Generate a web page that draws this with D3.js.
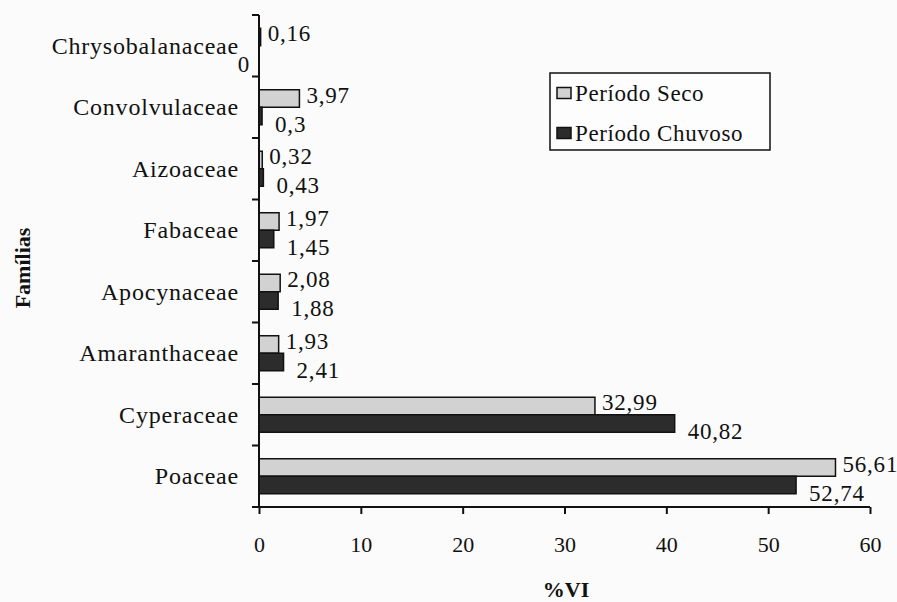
<!DOCTYPE html>
<html>
<head>
<meta charset="utf-8">
<script src="https://cdn.jsdelivr.net/npm/d3@7"></script>
<style>
  html, body { margin: 0; padding: 0; background: #fbfbfb; }
  svg { display: block; }
  text { font-family: "Liberation Serif", "Times New Roman", serif; fill: #111; }
</style>
</head>
<body>
<svg id="chart" width="897" height="602"></svg>
<script>
// Plant families, listed top to bottom
const families = ["Chrysobalanaceae", "Convolvulaceae", "Aizoaceae", "Fabaceae",
                  "Apocynaceae", "Amaranthaceae", "Cyperaceae", "Poaceae"];
// %VI per family for each season
const seco    = [0.16, 3.97, 0.32, 1.97, 2.08, 1.93, 32.99, 56.61];
const chuvoso = [0,    0.30, 0.43, 1.45, 1.88, 2.41, 40.82, 52.74];
const seriesNames = ["Período Seco", "Período Chuvoso"];
const xTicks = [0, 10, 20, 30, 40, 50, 60];

const fmt = v => String(v).replace(".", ",");

const svg = d3.select("#chart");
const margin = { top: 15, left: 259, right: 27, bottom: 95 };
const W = 897, H = 602;

const x = d3.scaleLinear().domain([0, 60]).range([margin.left, W - margin.right]);
const y = d3.scaleBand().domain(families).range([margin.top, H - margin.bottom]).padding(0);
const sub = d3.scaleBand().domain(["seco", "chuvoso"]).range([0, y.bandwidth()])
  .paddingInner(0).paddingOuter(0.757);

const fills  = { seco: "#d2d2d2", chuvoso: "#2c2c2c" };

// Bars
const rows = families.map((f, i) => ({ f, seco: seco[i], chuvoso: chuvoso[i] }));
["seco", "chuvoso"].forEach(key => {
  svg.append("g").selectAll("rect").data(rows).join("rect")
    .attr("x", x(0))
    .attr("y", d => y(d.f) + sub(key))
    .attr("width", d => x(d[key]) - x(0))
    .attr("height", sub.bandwidth())
    .attr("fill", fills[key])
    .attr("stroke", "#111")
    .attr("stroke-width", 1.5);
});

// Value labels
const lbl = svg.append("g").attr("font-size", 23).attr("letter-spacing", 0.8);
rows.forEach(d => {
  const ySeco = y(d.f) + sub("seco") + sub.bandwidth() / 2;
  lbl.append("text")
    .attr("x", x(d.seco) + 7)
    .attr("y", ySeco - 3)
    .attr("dominant-baseline", "central")
    .text(fmt(d.seco));
  const yCh = y(d.f) + sub("chuvoso") + sub.bandwidth() / 2;
  const zero = d.chuvoso === 0;
  lbl.append("text")
    .attr("x", zero ? x(0) - 9 : x(d.chuvoso) + 13)
    .attr("y", yCh + (zero ? 10 : 8))
    .attr("text-anchor", zero ? "end" : "start")
    .attr("dominant-baseline", "central")
    .text(fmt(d.chuvoso));
});

// Axes
const axisG = svg.append("g");
// y axis line with band ticks
axisG.append("line")
  .attr("x1", x(0)).attr("x2", x(0))
  .attr("y1", margin.top).attr("y2", H - margin.bottom)
  .attr("stroke", "#111").attr("stroke-width", 2);
const bounds = families.map(f => y(f)).concat([H - margin.bottom]);
axisG.selectAll(".yt").data(bounds).join("line")
  .attr("x1", x(0) - 7).attr("x2", x(0))
  .attr("y1", d => d).attr("y2", d => d)
  .attr("stroke", "#111").attr("stroke-width", 2);

// category labels
svg.append("g").selectAll("text").data(families).join("text")
  .attr("x", x(0) - 20)
  .attr("y", d => y(d) + y.bandwidth() / 2)
  .attr("text-anchor", "end")
  .attr("dominant-baseline", "central")
  .attr("font-size", 24)
  .attr("letter-spacing", 0.8)
  .text(d => d);

// x axis
const xAxis = d3.axisBottom(x).tickValues(xTicks).tickSize(7).tickPadding(22)
  .tickFormat(d => d);
const xg = svg.append("g")
  .attr("transform", `translate(0,${H - margin.bottom})`)
  .call(xAxis);
xg.select(".domain").attr("stroke", "#111").attr("stroke-width", 2)
  .attr("d", `M${x(0)},0H${x(60)}`);
xg.selectAll(".tick line").attr("stroke", "#111").attr("stroke-width", 2);
xg.selectAll(".tick text")
  .attr("font-family", "'Liberation Serif', serif")
  .attr("font-size", 22).attr("fill", "#111");

// axis titles
svg.append("text")
  .attr("x", 566).attr("y", 597)
  .attr("text-anchor", "middle")
  .attr("font-size", 22).attr("font-weight", "bold")
  .text("%VI");
svg.append("text")
  .attr("transform", "translate(22,268) rotate(-90)")
  .attr("text-anchor", "middle")
  .attr("dominant-baseline", "central")
  .attr("font-size", 22).attr("font-weight", "bold")
  .text("Famílias");

// Legend
const leg = svg.append("g").attr("transform", "translate(550,73)");
leg.append("rect").attr("width", 220).attr("height", 77)
  .attr("fill", "#fdfdfd").attr("stroke", "#111").attr("stroke-width", 1.5);
["seco", "chuvoso"].forEach((k, i) => {
  const cy = 20 + i * 40;
  leg.append("rect").attr("x", 7).attr("y", cy - 5.5).attr("width", 14).attr("height", 11)
    .attr("fill", fills[k]).attr("stroke", "#111").attr("stroke-width", 1.5);
  leg.append("text").attr("x", 25).attr("y", cy)
    .attr("dominant-baseline", "central")
    .attr("font-size", 23).attr("letter-spacing", 0.6)
    .text(seriesNames[i]);
});
</script>
</body>
</html>
